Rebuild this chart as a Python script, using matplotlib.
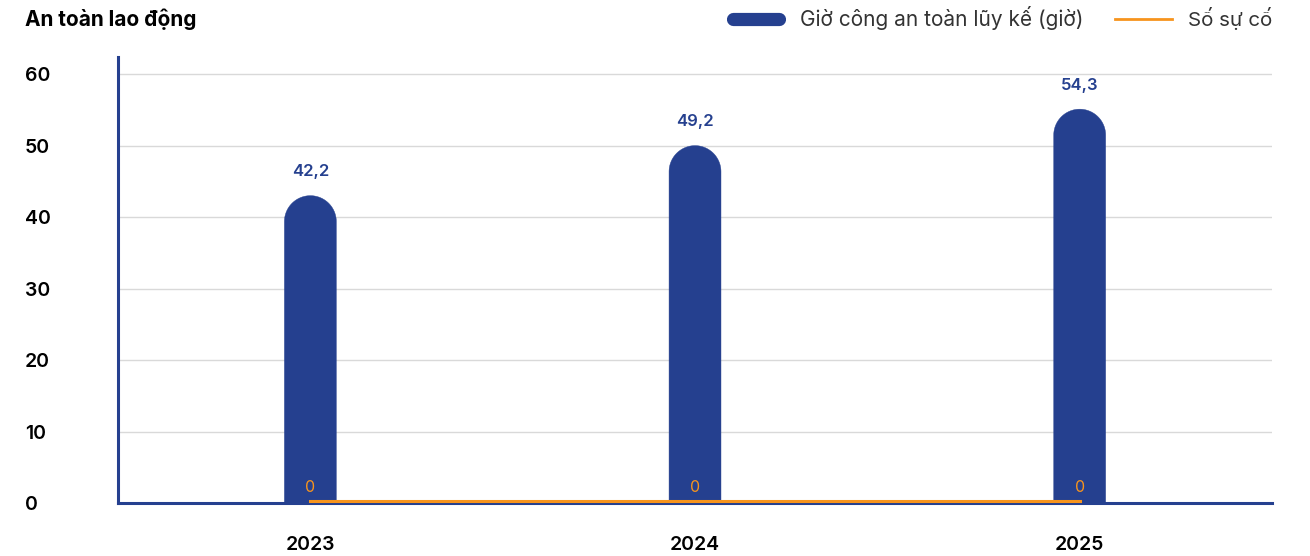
import matplotlib.pyplot as plt
import matplotlib.transforms as mtransforms
from matplotlib.patches import Polygon
from matplotlib.lines import Line2D
import numpy as np

plt.rcParams["font.family"] = ["Inter", "DejaVu Sans"]

years = ["2023", "2024", "2025"]
safe_hours = [42.2, 49.2, 54.3]
incidents = [0, 0, 0]
hour_labels = ["42,2", "49,2", "54,3"]
yticks = [0, 10, 20, 30, 40, 50, 60]

BLUE = "#25408f"
ORANGE = "#f7941d"


def main():
    fig = plt.figure(figsize=(13.1, 5.56), dpi=100)
    ax = fig.add_axes([0.0901, 0.0953, 0.8809, 0.8022])
    ax.set_xlim(-0.5, 2.5)
    ax.set_ylim(0, 62.4)

    x = np.arange(len(years))
    width = 0.135
    # pixel -> data conversion for the round cap
    px_per_unit = 556 * 0.8022 / 62.4
    r = (52 / 2) / px_per_unit
    cap_extra = 0.8  # the rounded cap pokes a little above the value
    th = np.linspace(0, np.pi, 60)
    for xi, v in zip(x, safe_hours):
        top = v + cap_extra
        cx = xi + (width / 2) * np.cos(th)
        cy = (top - r) + r * np.sin(th)
        pts = [(xi + width / 2, 0)] + list(zip(cx, cy)) + [(xi - width / 2, 0)]
        ax.add_patch(Polygon(pts, closed=True, facecolor=BLUE, edgecolor=BLUE,
                             lw=0.3, zorder=2))

    for xi, v, lab in zip(x, safe_hours, hour_labels):
        ax.annotate(lab, (xi, v), xytext=(0, 21.5), textcoords="offset points",
                    ha="center", va="center", color=BLUE, fontsize=12,
                    fontweight="semibold")

    shift = mtransforms.ScaledTranslation(0, 2.5 / 100, fig.dpi_scale_trans)
    ax.plot(x, incidents, color=ORANGE, lw=2.2, zorder=4, clip_on=False,
            transform=ax.transData + shift)
    for xi, v in zip(x, incidents):
        ax.annotate(str(v), (xi, v), xytext=(0, 11.5), textcoords="offset points",
                    ha="center", va="center", color=ORANGE, fontsize=11.5)

    ax.set_yticks(yticks)
    ax.set_yticklabels([str(t) for t in yticks], fontsize=14, fontweight="semibold")
    for lab in ax.get_yticklabels():
        lab.set_horizontalalignment("left")
    ax.tick_params(axis="y", length=0, pad=67)
    ax.set_xticks(x)
    ax.set_xticklabels(years, fontsize=14, fontweight="semibold")
    ax.tick_params(axis="x", length=0, pad=24)

    ax.grid(axis="y", color="#d9d9d9", lw=1, zorder=0)
    ax.set_axisbelow(True)
    for s in ["top", "right"]:
        ax.spines[s].set_visible(False)
    for s in ["left", "bottom"]:
        ax.spines[s].set_color(BLUE)
        ax.spines[s].set_linewidth(2.2)

    fig.text(25 / 1310, 1 - 19 / 556, "An toàn lao động", fontsize=15,
             fontweight="bold", ha="left", va="center")

    # legend
    ly = 1 - 18.5 / 556
    fig.add_artist(Line2D([733 / 1310, 779 / 1310], [ly, ly], color=BLUE, lw=9.5,
                          solid_capstyle="round", transform=fig.transFigure))
    fig.text(800 / 1310, ly, "Giờ công an toàn lũy kế (giờ)", fontsize=15,
             color="#333333", ha="left", va="center")
    fig.add_artist(Line2D([1115 / 1310, 1172 / 1310], [ly, ly], color=ORANGE, lw=2,
                          transform=fig.transFigure))
    fig.text(1188 / 1310, ly, "Số sự cố", fontsize=14.8, color="#333333",
             ha="left", va="center")

    fig.savefig("out.png", dpi=100)


if __name__ == "__main__":
    main()
